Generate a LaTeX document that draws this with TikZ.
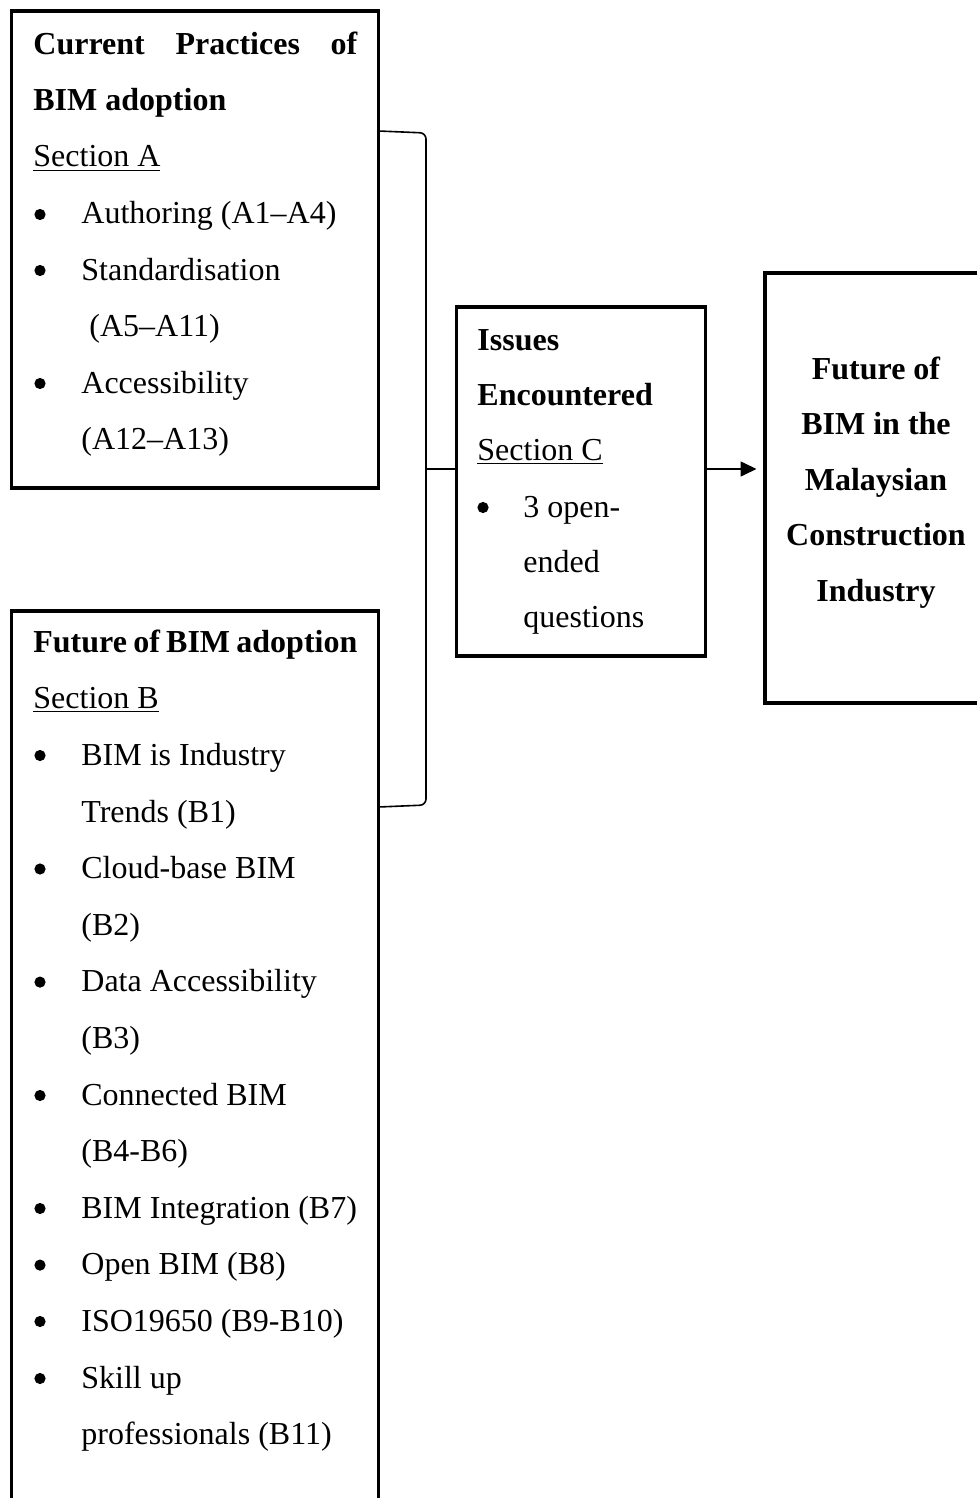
\documentclass[tikz,border=0pt]{standalone}
\usepackage{fontspec}
\setmainfont{Liberation Serif}
\usetikzlibrary{arrows.meta}
\begin{document}
\begin{tikzpicture}[x=0.5pt,y=-0.5pt,
  box/.style={draw, line width=1.65pt, inner sep=0pt, outer sep=0pt},
  txt/.style={anchor=base west, inner sep=0pt, font=\fontsize{16}{19}\selectfont},
  btxt/.style={txt, font=\fontsize{16}{19}\selectfont\bfseries},
  ctr/.style={anchor=base, inner sep=0pt, font=\fontsize{16}{19}\selectfont\bfseries},
  dot/.style={circle, fill, draw=none, inner sep=0pt, minimum size=5.6pt},
  link/.style={line width=0.8pt}]
\clip (0,0) rectangle (977,1498);
\fill[white] (0,0) rectangle (977,1498);

% boxes
\node[box, minimum width=183.5pt, minimum height=238.5pt] (A) at (195,249.5) {};
\node[box, minimum width=183.5pt, minimum height=474.5pt] (B) at (195,1085.5) {};
\node[box, minimum width=124.5pt, minimum height=174.5pt] (C) at (581,481.5) {};
\node[box, minimum width=111.5pt, minimum height=215pt] (D) at (876.5,488) {};

% Box A text
\node[btxt] (a1) at (33,55) {\makebox[162pt][s]{Current\hfill Practices\hfill of}};
\node[btxt] (a2) at (33,111) {BIM adoption};
\node[txt] (a3) at (33,167) {\underline{Section A}};
\node[dot] (a4b) at (40,214.5) {};
\node[txt] (a4) at (81,224) {Authoring (A1–A4)};
\node[dot] (a5b) at (40,270.5) {};
\node[txt] (a5) at (81,280) {Standardisation};
\node[txt] (a6) at (89,336) {(A5–A11)};
\node[dot] (a7b) at (40,383.5) {};
\node[txt] (a7) at (81,393) {Accessibility};
\node[txt] (a8) at (81,449) {(A12–A13)};

% Box B text
\node[btxt] (b1) at (33,652) {\makebox[162pt][s]{Future of BIM adoption}};
\node[txt] (b2) at (33,708.6) {\underline{Section B}};
\node[dot] (b3b) at (40,755.5) {};
\node[txt] (b3) at (81,765) {BIM is Industry};
\node[txt] (b4) at (81,822) {Trends (B1)};
\node[dot] (b5b) at (40,869) {};
\node[txt] (b5) at (81,878.5) {Cloud-base BIM};
\node[txt] (b6) at (81,935) {(B2)};
\node[dot] (b7b) at (40,982.1) {};
\node[txt] (b7) at (81,991.6) {Data Accessibility};
\node[txt] (b8) at (81,1048) {(B3)};
\node[dot] (b9b) at (40,1095.5) {};
\node[txt] (b9) at (81,1105) {Connected BIM};
\node[txt] (b10) at (81,1161) {(B4-B6)};
\node[dot] (b11b) at (40,1208.5) {};
\node[txt] (b11) at (81,1218) {BIM Integration (B7)};
\node[dot] (b12b) at (40,1265.1) {};
\node[txt] (b12) at (81,1274.6) {Open BIM (B8)};
\node[dot] (b13b) at (40,1321.5) {};
\node[txt] (b13) at (81,1331) {ISO19650 (B9-B10)};
\node[dot] (b14b) at (40,1378.5) {};
\node[txt] (b14) at (81,1388) {Skill up};
\node[txt] (b15) at (81,1444.6) {professionals (B11)};

% Box C text
\node[btxt] (c1) at (477,350) {Issues};
\node[btxt] (c2) at (477,405) {Encountered};
\node[txt] (c3) at (477,460) {\underline{Section C}};
\node[dot] (c4b) at (483,507.5) {};
\node[txt] (c4) at (523,517) {3 open-};
\node[txt] (c5) at (523,572) {ended};
\node[txt] (c6) at (523,627) {questions};

% Box D text
\node[ctr] (d1) at (876,379) {Future of};
\node[ctr] (d2) at (876,434.5) {BIM in the};
\node[ctr] (d3) at (876,490) {Malaysian};
\node[ctr] (d4) at (876,545.5) {Construction};
\node[ctr] (d5) at (876,601) {Industry};

% bracket
\coordinate (ta) at (379,131);
\coordinate (tb) at (379,807);
\coordinate (mid) at (426,469);
\draw[link, rounded corners=3pt] (A.east |- ta) -- (426,133) -- (426,805) -- (B.east |- tb);
\draw[link] (mid) -- (C.west |- mid);
\draw[link, -{Triangle[length=8pt,width=7.5pt]}, shorten >=4.25pt] (C.east |- mid) -- (D.west |- mid);
\end{tikzpicture}
\end{document}
